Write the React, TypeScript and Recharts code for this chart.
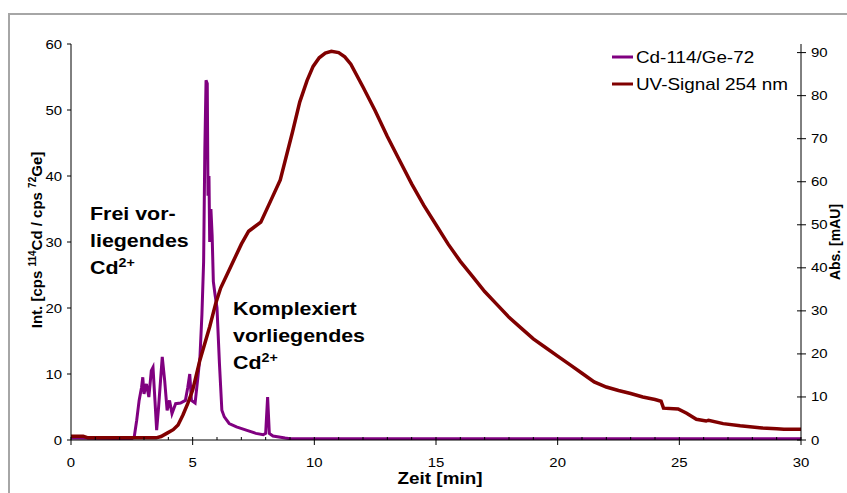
import { LineChart, Line, XAxis, YAxis, Legend } from 'recharts'

// Cd-114/Ge-72 ratio (left axis)
const cdTime = [0, 2.5, 2.6, 2.7, 2.8, 2.9, 2.95, 3.0, 3.1, 3.2, 3.3, 3.37, 3.45, 3.52, 3.6, 3.75, 3.85, 3.95, 4.05, 4.15, 4.3, 4.5, 4.7, 4.8, 4.88, 4.95, 5.1, 5.2, 5.3, 5.38, 5.45, 5.5, 5.55, 5.6, 5.63, 5.67, 5.7, 5.75, 5.8, 5.85, 5.92, 6.0, 6.1, 6.2, 6.3, 6.5, 6.8, 7.2, 7.6, 7.9, 8.0, 8.08, 8.15, 8.3, 8.8, 9.0, 30]
const cdSignal = [0.3, 0.2, 0.5, 3, 6, 8, 9.5, 7, 8.5, 6.5, 10.5, 11, 6, 1.5, 5, 12.6, 9, 4.5, 6, 4, 5.5, 5.6, 6, 8, 10, 6, 5.6, 9, 12.6, 19, 27, 44, 54.5, 54, 37, 40, 30, 35, 31, 24, 22, 20, 11.6, 4.5, 3.5, 2.5, 2, 1.5, 1, 0.8, 1, 6.5, 1, 0.6, 0.3, 0.2, 0.2]

// UV signal 254 nm in mAU (right axis)
const uvTime = [0, 0.5, 0.7, 3.5, 3.7, 3.95, 4.2, 4.4, 4.6, 4.8, 5.0, 5.3, 5.7, 5.95, 6.15, 6.5, 7.0, 7.3, 7.8, 8.2, 8.6, 9.1, 9.4, 9.7, 9.95, 10.2, 10.45, 10.7, 11.0, 11.25, 11.5, 12.0, 12.5, 13.0, 13.5, 14.0, 14.5, 15.0, 15.5, 16.0, 16.5, 17.0, 17.5, 18.0, 18.5, 19.0, 19.5, 20.0, 20.5, 21.0, 21.5, 22.0, 22.5, 23.0, 23.5, 24.0, 24.25, 24.35, 24.95, 25.3, 25.7, 26.1, 26.2, 26.8, 27.5, 28.4, 29.0, 29.3, 30]
const uvSignal = [0.9, 0.9, 0.5, 0.5, 0.8, 1.6, 2.4, 3.5, 5.8, 8.5, 11.6, 18.6, 26.3, 31.8, 35.3, 39.5, 45.5, 48.5, 50.6, 55.5, 60.4, 71.5, 78.5, 83.5, 86.8, 88.8, 89.9, 90.3, 90.0, 89.0, 87.3, 82.0, 76.5, 70.5, 65.0, 59.5, 54.5, 50.0, 45.5, 41.5, 38.0, 34.5, 31.5, 28.5, 26.0, 23.5, 21.5, 19.5, 17.5, 15.5, 13.5, 12.3, 11.5, 10.8, 10.0, 9.4, 9.0, 7.4, 7.2, 6.2, 4.8, 4.4, 4.6, 3.8, 3.3, 2.8, 2.6, 2.5, 2.5]

const timeTicks = [0, 1, 2, 3, 4, 5, 6, 7, 8, 9, 10, 11, 12, 13, 14, 15, 16, 17, 18, 19, 20, 21, 22, 23, 24, 25, 26, 27, 28, 29, 30]
const intTicks = [0, 10, 20, 30, 40, 50, 60]
const absTicks = [0, 10, 20, 30, 40, 50, 60, 70, 80, 90]

const cdData = cdTime.map((t, i) => ({ t, v: cdSignal[i] }))
const uvData = uvTime.map((t, i) => ({ t, v: uvSignal[i] }))

const FONT = 'Arial, "Liberation Sans", sans-serif'
const PURPLE = '#800080'
const DARKRED = '#800000'

function TimeTick({ x, y, payload }: any) {
  const major = payload.value % 5 === 0
  return (
    <g>
      <line x1={x} x2={x} y1={y - 3} y2={major ? y + 5 : y} stroke="#000" />
      {major && (
        <text transform={`translate(${x},${y + 27}) scale(1.15,1)`} textAnchor="middle" fontSize={13} fontFamily={FONT} fill="#000">
          {payload.value}
        </text>
      )}
    </g>
  )
}

function IntTick({ x, y, payload }: any) {
  return (
    <g>
      <line x1={x - 4} x2={x} y1={y} y2={y} stroke="#000" />
      <text transform={`translate(${x - 9},${y + 4.5}) scale(1.15,1)`} textAnchor="end" fontSize={13} fontFamily={FONT} fill="#000">
        {payload.value}
      </text>
    </g>
  )
}

function AbsTick({ x, y, payload }: any) {
  return (
    <g>
      <line x1={x - 4} x2={x + 5} y1={y} y2={y} stroke="#000" />
      <text transform={`translate(${x + 10},${y + 4.5}) scale(1.15,1)`} textAnchor="start" fontSize={13} fontFamily={FONT} fill="#000">
        {payload.value}
      </text>
    </g>
  )
}

function SeriesLegend({ payload }: any) {
  return (
    <svg width={200} height={50}>
      {(payload || []).map((e: any, i: number) => (
        <g key={e.value}>
          <line x1={0} x2={21} y1={10 + i * 27} y2={10 + i * 27} stroke={e.color} strokeWidth={3} />
          <text transform={`translate(24,${16 + i * 27}) scale(1.18,1)`} fontSize={16} fontFamily={FONT} fill="#000">
            {e.value}
          </text>
        </g>
      ))}
    </svg>
  )
}

function Note({ x, y, lines }: { x: number; y: number; lines: string[] }) {
  return (
    <g transform={`translate(${x},${y}) scale(1.19,1)`} fontFamily={FONT} fontWeight="bold" fontSize={18} fill="#000">
      {lines.map((l, i) => (
        <text key={i} x={0} y={i * 27}>
          {l}
        </text>
      ))}
      <text x={0} y={lines.length * 27}>
        Cd<tspan fontSize={12} dy={-7}>2+</tspan>
      </text>
    </g>
  )
}

export default function App() {
  return (
    <div style={{ position: 'absolute', left: 0, top: 0, width: 847, height: 493, background: '#fff' }}>
      <LineChart width={847} height={493} margin={{ top: 44, right: 6, bottom: 23, left: 31 }}>
        <XAxis
          type="number"
          dataKey="t"
          domain={[0, 30]}
          ticks={timeTicks}
          interval={0}
          tick={<TimeTick />}
          tickLine={false}
          tickSize={0}
          tickMargin={0}
          height={30}
          axisLine={{ stroke: '#000' }}
          allowDataOverflow
        />
        <YAxis
          yAxisId="int"
          type="number"
          domain={[0, 60]}
          ticks={intTicks}
          interval={0}
          tick={<IntTick />}
          tickLine={false}
          tickSize={0}
          tickMargin={0}
          width={40}
          axisLine={{ stroke: '#000' }}
          allowDataOverflow
        />
        <YAxis
          yAxisId="abs"
          orientation="right"
          type="number"
          domain={[0, 92]}
          ticks={absTicks}
          interval={0}
          tick={<AbsTick />}
          tickLine={false}
          tickSize={0}
          tickMargin={0}
          width={40}
          axisLine={{ stroke: '#000' }}
          allowDataOverflow
        />
        <Legend
          layout="horizontal"
          verticalAlign="middle"
          align="center"
          wrapperStyle={{ left: 612, top: 47, width: 200, height: 50 }}
          content={<SeriesLegend />}
        />
        <Line
          data={cdData}
          dataKey="v"
          name="Cd-114/Ge-72"
          yAxisId="int"
          type="linear"
          stroke={PURPLE}
          strokeWidth={3}
          dot={false}
          isAnimationActive={false}
        />
        <Line
          data={uvData}
          dataKey="v"
          name="UV-Signal 254 nm"
          yAxisId="abs"
          type="linear"
          stroke={DARKRED}
          strokeWidth={3.5}
          dot={false}
          isAnimationActive={false}
        />
      </LineChart>
      <svg width={847} height={493} style={{ position: 'absolute', left: 0, top: 0, pointerEvents: 'none' }}>
        <rect x={9} y={14} width={850} height={490} fill="none" stroke="#a6a6a6" strokeWidth={2} />
        <text transform="translate(42,240) rotate(-90)" textAnchor="middle" fontFamily={FONT} fontWeight="bold" fontSize={15} fill="#000">
          Int. [cps <tspan fontSize={10} dy={-6}>114</tspan>
          <tspan dy={6}>Cd / cps </tspan>
          <tspan fontSize={10} dy={-6}>72</tspan>
          <tspan dy={6}>Ge]</tspan>
        </text>
        <text transform="translate(840,242) rotate(-90)" textAnchor="middle" fontFamily={FONT} fontWeight="bold" fontSize={14} fill="#000">
          Abs. [mAU]
        </text>
        <text transform="translate(440,484) scale(1.18,1)" textAnchor="middle" fontFamily={FONT} fontWeight="bold" fontSize={16} fill="#000">
          Zeit [min]
        </text>
        <Note x={90} y={220} lines={['Frei vor-', 'liegendes']} />
        <Note x={233} y={315} lines={['Komplexiert', 'vorliegendes']} />
      </svg>
    </div>
  )
}
